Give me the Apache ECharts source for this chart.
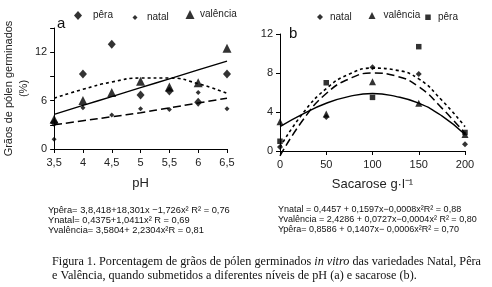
<!DOCTYPE html>
<html><head><meta charset="utf-8">
<script src="https://cdn.jsdelivr.net/npm/echarts@6/dist/echarts.min.js"></script>
<style>html,body{margin:0;padding:0;background:#fff}#c{width:492px;height:287px}</style>
</head><body><div id="c"></div>
<script>
// ---- Panel a : pH ----
const phTicks = [3.5, 4, 4.5, 5, 5.5, 6, 6.5];
const peraPH = [3.3, 9.3, 13.0, 6.7, 7.2, 5.8, 9.3];
const natalPH = [1.2, 5.1, 4.2, 5.0, 4.9, 7.0, 5.0];
const valenciaPH = [3.7, 6.0, 7.0, 8.4, 7.7, 8.2, 12.5];
const peraPHFit = [6.3, 7.4, 8.3, 8.8, 8.8, 8.1, 6.9];
const natalPHFit = [3.0, 3.5, 4.0, 4.5, 5.1, 5.7, 6.3];
const valenciaPHFit = [4.3, 5.4, 6.5, 7.6, 8.7, 9.8, 10.9];

// ---- Panel b : sacarose ----
const sacX = [0, 50, 100, 150, 200];
const natalSac = [0.4, 3.5, 8.6, 7.9, 0.7];
const valenciaSac = [3.0, 3.8, 7.1, 4.9, 1.7];
const peraSac = [1.0, 7.0, 5.5, 10.7, 1.9];
const sacFitX = [0, 25, 50, 75, 100, 125, 150, 175, 200];
const natalSacFit = [0.4, 3.9, 6.4, 7.9, 8.5, 8.3, 7.4, 5.2, 2.5];
const peraSacFit = [-0.5, 3.2, 5.9, 7.4, 8.0, 7.7, 6.6, 4.4, 1.8];
const valenciaSacFit = [2.5, 3.8, 4.9, 5.6, 5.9, 5.6, 4.9, 3.6, 1.7];

const eqA = [
  'Ypêra= 3,8,418+18,301x −1,726x² R² = 0,76',
  'Ynatal= 0,4375+1,0411x² R = 0,69',
  'Yvalência= 3,5804+ 2,2304x²R = 0,81'
];
const eqB = [
  'Ynatal = 0,4457 + 0,1597x−0,0008x²R² = 0,88',
  'Yvalência = 2,4286 + 0,0727x−0,0004x² R² = 0,80',
  'Ypêra= 0,8586 + 0,1407x− 0,0006x²R² = 0,70'
];
const caption = [
  'Figura 1. Porcentagem de grãos de pólen germinados {i|in vitro} das variedades Natal, Pêra',
  'e Valência, quando submetidos a diferentes níveis de pH (a) e sacarose (b).'
];

const zip = (xs, ys) => xs.map((x, i) => [x, ys[i]]);
const FONT = 'Liberation Sans';
const BLACK = '#000';

const axisCommon = {
  axisLine: { lineStyle: { color: BLACK, width: 1 } },
  axisTick: { length: 4, lineStyle: { color: BLACK, width: 1 } },
  splitLine: { show: false },
  axisLabel: { color: '#222', fontSize: 11, fontFamily: FONT }
};

function scatter(name, xi, yi, data, symbol, size) {
  return { name, type: 'scatter', xAxisIndex: xi, yAxisIndex: yi, data, symbol, symbolSize: size,
    itemStyle: { color: BLACK }, z: 5 };
}
function fit(name, xi, yi, data, type, width) {
  return { name: name + ' fit', type: 'line', xAxisIndex: xi, yAxisIndex: yi, data, smooth: true,
    showSymbol: false, symbol: 'none', clip: false,
    lineStyle: { color: BLACK, width: width, type: type }, z: 3 };
}
// cx, cy: icon centre; w, h: icon size; off: distance from icon centre to text start
function legendItem(name, icon, cx, cy, w, h, off) {
  return { data: [{ name, icon }], left: cx - w / 2, top: cy - h / 2, itemWidth: w, itemHeight: h, padding: 0,
    selectedMode: false,
    textStyle: { fontSize: 10, fontFamily: FONT, color: '#222', padding: [0, 0, 0, Math.max(0, off - w / 2 - 5)] } };
}

const graphics = [
  { type: 'text', left: 57, top: 16, style: { text: 'a', fontSize: 15, fontFamily: FONT, fill: '#111' } },
  { type: 'text', left: 289, top: 26, style: { text: 'b', fontSize: 15, fontFamily: FONT, fill: '#111' } }
];
eqA.forEach((t, i) => graphics.push({ type: 'text', left: 48, top: 205.5 + i * 10,
  style: { text: t, fontSize: 9.3, fontFamily: FONT, fill: '#111' } }));
eqB.forEach((t, i) => graphics.push({ type: 'text', left: 278, top: 205.5 + i * 10,
  style: { text: t, fontSize: 9.0, fontFamily: FONT, fill: '#111' } }));
caption.forEach((t, i) => graphics.push({ type: 'text', left: 52, top: 256 + i * 14,
  style: { text: t, fontSize: 12.2, fontFamily: 'Liberation Serif', fill: '#111',
    rich: { i: { fontStyle: 'italic', fontSize: 12.2, fontFamily: 'Liberation Serif', fill: '#111' } } } }));

const chart = echarts.init(document.getElementById('c'), null, { renderer: 'canvas' });
chart.setOption({
  animation: false,
  backgroundColor: '#fff',
  grid: [
    { left: 51, top: 28, width: 176, height: 121 },
    { left: 280, top: 34, width: 185, height: 117 }
  ],
  xAxis: [
    Object.assign({}, axisCommon, { type: 'value', gridIndex: 0, min: 3.5, max: 6.5, interval: 0.5,
      axisLabel: Object.assign({}, axisCommon.axisLabel, { margin: 8, formatter: v => String(v).replace('.', ',') }),
      name: 'pH', nameLocation: 'middle', nameGap: 28,
      nameTextStyle: { fontSize: 13, fontFamily: FONT, color: '#222' } }),
    Object.assign({}, axisCommon, { type: 'value', gridIndex: 1, min: 0, max: 200, interval: 50,
      axisLabel: Object.assign({}, axisCommon.axisLabel, { margin: 8 }),
      name: 'Sacarose g·l⁻¹', nameLocation: 'middle', nameGap: 27,
      nameTextStyle: { fontSize: 13, fontFamily: FONT, color: '#222' } })
  ],
  yAxis: [
    Object.assign({}, axisCommon, { type: 'value', gridIndex: 0, min: 0, max: 15, interval: 3,
      axisLabel: Object.assign({}, axisCommon.axisLabel, { margin: 7, formatter: v => (v % 6 === 0 ? String(v) : '') }),
      name: 'Grãos de pólen germinados\n(%)', nameLocation: 'middle', nameRotate: 90, nameGap: 20,
      nameTextStyle: { fontSize: 11, fontFamily: FONT, color: '#222', lineHeight: 15 } }),
    Object.assign({}, axisCommon, { type: 'value', gridIndex: 1, min: 0, max: 12, interval: 4,
      axisLabel: Object.assign({}, axisCommon.axisLabel, { margin: 7 }) })
  ],
  legend: [
    legendItem('pêra', 'diamond', 78, 15, 8, 9, 15),
    legendItem('natal', 'diamond', 135, 15, 5, 5, 12),
    legendItem('valência', 'triangle', 190, 14, 9, 9, 10),
    legendItem('natal', 'diamond', 320, 15, 6, 6, 10),
    legendItem('valência', 'triangle', 372, 14, 7, 7, 11.5),
    legendItem('pêra', 'rect', 428, 15, 5.5, 5.5, 10)
  ],
  graphic: graphics,
  series: [
    fit('pêra', 0, 0, zip(phTicks, peraPHFit), [3, 3], 1.6),
    fit('natal', 0, 0, zip(phTicks, natalPHFit), [8, 4], 1.5),
    fit('valência', 0, 0, zip(phTicks, valenciaPHFit), 'solid', 1.4),
    scatter('pêra', 0, 0, zip(phTicks, peraPH), 'diamond', [8, 9]),
    scatter('natal', 0, 0, zip(phTicks, natalPH), 'diamond', 5),
    scatter('valência', 0, 0, zip(phTicks, valenciaPH), 'triangle', 9),
    fit('natal', 1, 1, zip(sacFitX, natalSacFit), [3, 3], 1.6),
    fit('pêra', 1, 1, zip(sacFitX, peraSacFit), [8, 4], 1.5),
    fit('valência', 1, 1, zip(sacFitX, valenciaSacFit), 'solid', 1.4),
    scatter('natal', 1, 1, zip(sacX, natalSac), 'diamond', 6),
    scatter('valência', 1, 1, zip(sacX, valenciaSac), 'triangle', 7),
    scatter('pêra', 1, 1, zip(sacX, peraSac), 'rect', 5.5)
  ]
});
</script></body></html>
